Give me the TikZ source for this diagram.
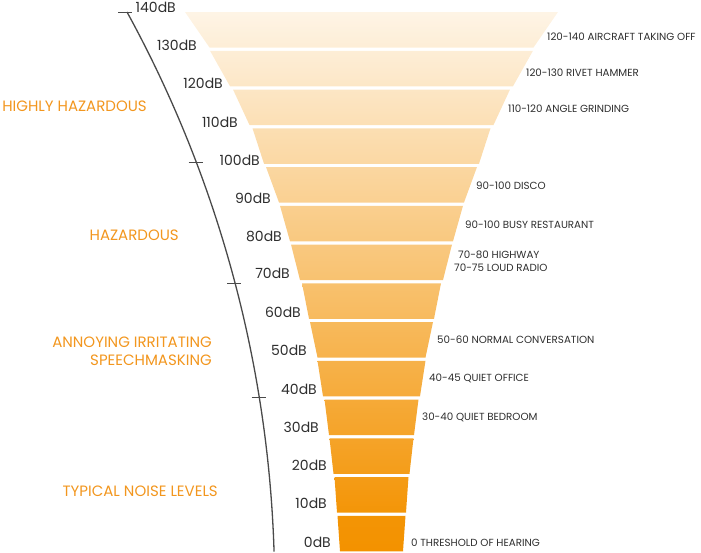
\documentclass[tikz,border=0pt]{standalone}
\usepackage{fontspec}
\setmainfont{Poppins}
\definecolor{funnel}{HTML}{F39200}
\definecolor{zone}{HTML}{F2961E}
\definecolor{ink}{HTML}{2E2E2E}
\definecolor{axis}{HTML}{4A4A4A}
\begin{document}
\begin{tikzpicture}[x=1pt,y=-1pt,
  dblabel/.style={anchor=east,inner sep=0pt,text=ink,font=\fontsize{14}{14}\selectfont},
  itemlabel/.style={anchor=west,inner sep=0pt,text=ink,font=\fontsize{10.3}{10.3}\selectfont},
  zonelabel/.style={anchor=east,inner sep=0pt,text=zone,align=right,font=\fontsize{15}{18}\selectfont}]
\useasboundingbox (0,0) rectangle (701,552);
% funnel bands, light at the top
\foreach \i/\wt/\wb in {0/186.5/162, 1/161.5/141.5, 2/138.5/122, 3/119/107.5,
    4/105.5/92.5, 5/91.5/81.5, 6/80.5/71.5, 7/69.5/62.5, 8/61.5/54, 9/54/48.5,
    10/47/42.5, 11/42/38, 12/37/34.5, 13/34/31.5} {
  \pgfmathsetmacro\yt{12+38.75*\i}
  \pgfmathsetmacro\yb{\yt+35.5}
  \pgfmathtruncatemacro\pt{min(10+6.8*\i,100)}
  \pgfmathtruncatemacro\pb{min(16+6.8*\i,100)}
  \shade[top color=funnel!\pt!white,bottom color=funnel!\pb!white]
    (371.5-\wt,\yt) -- (371.5+\wt,\yt) -- (371.5+\wb,\yb) -- (371.5-\wb,\yb) -- cycle;
}
% scale arc and ticks
\draw[axis,line width=1.3pt] (127,12) arc[start angle=-28.72,end angle=-1.77,radius=1200];
\foreach \x/\y in {125/12,195.5/162,234.3/283,258.5/397}
  \draw[axis,line width=1pt] (\x-7,\y) -- (\x+7,\y);
% dB levels
\foreach \db/\xr/\y in {140/176/7, 130/197/45, 120/223/83, 110/238/122, 100/260/160,
    90/271/198, 80/282/236, 70/290/273, 60/301/312, 50/307/350, 40/317/389,
    30/319/427, 20/327/465, 10/327/503, 0/331/542}
  \node[dblabel] (db\db) at (\xr,\y) {\db dB};
% examples
\node[itemlabel] (aircraft) at (547,37) {120-140 AIRCRAFT TAKING OFF};
\node[itemlabel] (rivet) at (526,73) {120-130 RIVET HAMMER};
\node[itemlabel] (grinding) at (508,109) {110-120 ANGLE GRINDING};
\node[itemlabel] (disco) at (476,186) {90-100 DISCO};
\node[itemlabel] (restaurant) at (465,225) {90-100 BUSY RESTAURANT};
\node[itemlabel] (highway) at (458,255) {70-80 HIGHWAY};
\node[itemlabel] (radio) at (454,268) {70-75 LOUD RADIO};
\node[itemlabel] (conversation) at (437,340) {50-60 NORMAL CONVERSATION};
\node[itemlabel] (office) at (429,378) {40-45 QUIET OFFICE};
\node[itemlabel] (bedroom) at (422,417) {30-40 QUIET BEDROOM};
\node[itemlabel] (threshold) at (411,543) {0 THRESHOLD OF HEARING};
% zones
\node[zonelabel] (highhaz) at (147,106) {HIGHLY HAZARDOUS};
\node[zonelabel] (haz) at (179,235) {HAZARDOUS};
\node[zonelabel] (annoy) at (212,351) {ANNOYING IRRITATING\\SPEECHMASKING};
\node[zonelabel] (typical) at (218,491) {TYPICAL NOISE LEVELS};
\end{tikzpicture}
\end{document}
